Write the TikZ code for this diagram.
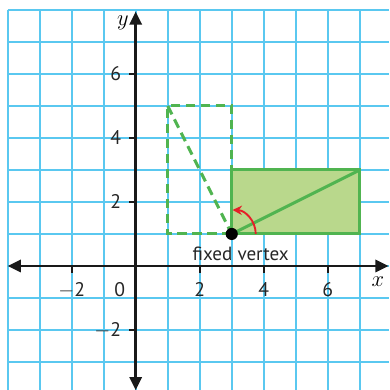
\documentclass[tikz,border=0pt]{standalone}
\usepackage{fontspec}
\setmainfont{PT Sans}
\usetikzlibrary{arrows.meta}
\definecolor{gridblue}{RGB}{90,200,240}
\definecolor{shapegreen}{RGB}{80,180,80}
\definecolor{fillgreen}{RGB}{185,216,140}
\definecolor{turnred}{RGB}{230,30,40}

\begin{document}
\begin{tikzpicture}[
    x=0.6cm, y=0.6cm,
    gridline/.style={draw=gridblue, line width=0.9pt},
    axis/.style={draw=black!90, line width=1.4pt, {Triangle[length=7pt,width=6.5pt]}-{Triangle[length=7pt,width=6.5pt]}},
    tick/.style={draw=black!90, line width=1.2pt},
    ticklabel/.style={font=\fontsize{10.5}{12}\selectfont, text=black!85},
    image/.style={draw=shapegreen, line width=1.6pt},
    preimage/.style={draw=shapegreen, line width=1.6pt, dash pattern=on 5pt off 3pt},
    turn/.style={draw=turnred, line width=1pt, -{Stealth[length=5pt,width=5pt]}}
]
  \useasboundingbox (-4.24,-3.875) rectangle (7.916,8.31);
  % grid
  \foreach \i in {-4,...,7} {
    \draw[gridline] (\i,-3.875) -- (\i,8);
  }
  \foreach \j in {-3,...,8} {
    \draw[gridline] (-4,\j) -- (7.916,\j);
  }
  % axes
  \draw[axis] (-4,0) -- (7.9,0);
  \draw[axis] (0,-3.88) -- (0,7.95);
  \foreach \v in {-2,2,4,6} {
    \draw[tick] (\v,0) -- (\v,-0.22);
    \draw[tick] (0,\v) -- (-0.22,\v);
  }
  \foreach \v/\t in {-2/$-$2,2/2,4/4,6/6} {
    \node[ticklabel, anchor=north] (xl\v) at (\v,-0.3) {\t};
    \node[ticklabel, anchor=east] (yl\v) at (-0.25,\v) {\t};
  }
  \node[ticklabel] (zero) at (-0.5,-0.75) {0};
  \node[font=\fontsize{13}{14}\selectfont] (xlab) at (7.57,-0.5) {$x$};
  \node[font=\fontsize{13}{14}\selectfont] (ylab) at (-0.4,7.6) {$y$};
  % corners of the two rectangles
  \coordinate (fv) at (3,1);
  \coordinate (a1) at (1,1);
  \coordinate (a2) at (1,5);
  \coordinate (a3) at (3,5);
  \coordinate (b2) at (7,1);
  \coordinate (b3) at (7,3);
  \coordinate (b4) at (3,3);
  % original rectangle, dashed
  \draw[preimage] (fv) -- (a1) -- (a2) -- (a3) -- cycle;
  \draw[preimage] (a2) -- (fv);
  % turned rectangle
  \fill[fillgreen] (fv) rectangle (b3);
  \draw[image] (fv) -- (b2) -- (b3) -- (b4) -- cycle;
  \draw[image] (fv) -- (b3);
  % rotation arrow
  \draw[turn] ([xshift=0.75*0.6cm]fv) arc[start angle=0, end angle=88, radius=0.75];
  \fill[black] (fv) circle[radius=0.19];
  \node[font=\fontsize{10.2}{12}\selectfont, text=black!85] (fvlab) at (3.28,0.38) {fixed vertex};
\end{tikzpicture}
\end{document}
